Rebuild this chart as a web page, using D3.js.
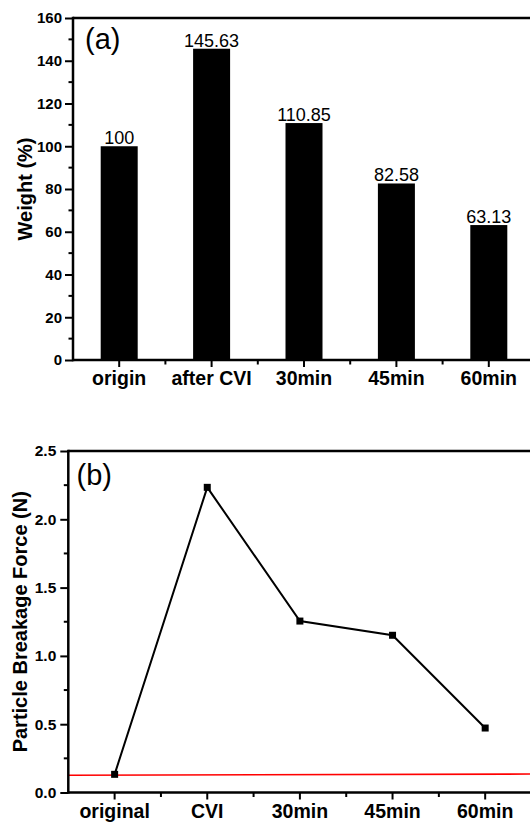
<!DOCTYPE html>
<html>
<head>
<meta charset="utf-8">
<script src="https://cdn.jsdelivr.net/npm/d3@7"></script>
<style>
  html, body { margin: 0; padding: 0; background: #fff; }
  svg { display: block; }
  text { font-family: "Liberation Sans", Arial, Helvetica, sans-serif; fill: #000; }
</style>
</head>
<body>
<script>
// ---- Data ----
const catsA = ["origin", "after CVI", "30min", "45min", "60min"];
const weightValues = [100, 145.63, 110.85, 82.58, 63.13];
const weightTicks = [0, 20, 40, 60, 80, 100, 120, 140, 160];

const catsB = ["original", "CVI", "30min", "45min", "60min"];
const forceValues = [0.133, 2.234, 1.255, 1.151, 0.472];
const forceTicks = [0, 0.5, 1.0, 1.5, 2.0, 2.5];
const redLineValues = [0.126, 0.135]; // red reference line at left and right ends

const W = 530, H = 822;
const svg = d3.select("body").append("svg").attr("width", W).attr("height", H);

const AX = 2.5; // axis stroke width

function drawFrame(g, x0, x1, y0, y1) {
  g.append("line").attr("x1", x0).attr("x2", x0).attr("y1", y0 - AX/2).attr("y2", y1 + AX/2)
    .attr("stroke", "#000").attr("stroke-width", AX);
  g.append("line").attr("x1", x0).attr("x2", x1).attr("y1", y1).attr("y2", y1)
    .attr("stroke", "#000").attr("stroke-width", AX);
  g.append("line").attr("x1", x0).attr("x2", x1).attr("y1", y0).attr("y2", y0)
    .attr("stroke", "#000").attr("stroke-width", AX);
}

// ================= Panel (a) =================
{
  const left = 73, right = 535, top = 18, bottom = 360;
  const x = d3.scaleBand().domain(catsA).range([left, right]).paddingInner(0.6).paddingOuter(0.3);
  const y = d3.scaleLinear().domain([0, 160]).range([bottom, top]);
  const g = svg.append("g");

  g.selectAll("rect.bar").data(weightValues).enter().append("rect")
    .attr("x", (d, i) => x(catsA[i]) + x.bandwidth()/2 - 18.5)
    .attr("width", 37)
    .attr("y", d => y(d))
    .attr("height", d => y(0) - y(d))
    .attr("fill", "#000");

  g.selectAll("text.val").data(weightValues).enter().append("text")
    .attr("x", (d, i) => x(catsA[i]) + x.bandwidth()/2)
    .attr("y", d => y(d) - 2)
    .attr("text-anchor", "middle")
    .style("font-size", "18px")
    .text(d => d);

  const yAxis = d3.axisLeft(y).tickValues(weightTicks).tickSize(8).tickPadding(3).tickFormat(d3.format("d"));
  const ya = g.append("g").attr("transform", `translate(${left},0)`).call(yAxis);
  ya.select(".domain").remove();
  ya.selectAll(".tick line").attr("stroke-width", 2);
  ya.selectAll(".tick text").style("font-size", "15px").style("font-weight", "bold")
    .style("font-family", '"Liberation Sans", Arial, sans-serif');
  const minorA = d3.range(10, 160, 20);
  g.selectAll("line.minory").data(minorA).enter().append("line")
    .attr("x1", left - 4.5).attr("x2", left).attr("y1", d => y(d)).attr("y2", d => y(d))
    .attr("stroke", "#000").attr("stroke-width", 2);

  const xc = c => x(c) + x.bandwidth()/2;
  g.selectAll("line.majx").data(catsA).enter().append("line")
    .attr("x1", d => xc(d)).attr("x2", d => xc(d)).attr("y1", bottom).attr("y2", bottom + 7)
    .attr("stroke", "#000").attr("stroke-width", 2);
  const minorXA = catsA.slice(0, -1).map((c, i) => (xc(c) + xc(catsA[i+1])) / 2);
  g.selectAll("line.minx").data(minorXA).enter().append("line")
    .attr("x1", d => d).attr("x2", d => d).attr("y1", bottom).attr("y2", bottom + 4.5)
    .attr("stroke", "#000").attr("stroke-width", 2);
  g.selectAll("text.xl").data(catsA).enter().append("text")
    .attr("x", d => xc(d)).attr("y", 385)
    .attr("text-anchor", "middle")
    .style("font-size", "19.5px").style("font-weight", "bold")
    .text(d => d);

  drawFrame(g, left, W + 5, top, bottom);

  g.append("text").attr("transform", `translate(31.5,${(top + bottom)/2}) rotate(-90)`)
    .attr("text-anchor", "middle")
    .style("font-size", "20px").style("font-weight", "bold")
    .text("Weight (%)");

  g.append("text").attr("x", 85).attr("y", 49)
    .style("font-size", "29px")
    .text("(a)");
}

// ================= Panel (b) =================
{
  const left = 68.3, right = 531.5, top = 451, bottom = 792.5;
  const x = d3.scalePoint().domain(catsB).range([left, right]).padding(0.5);
  const y = d3.scaleLinear().domain([0, 2.5]).range([bottom, top]);
  const g = svg.append("g");

  g.append("line")
    .attr("x1", left).attr("x2", W + 5)
    .attr("y1", y(redLineValues[0])).attr("y2", y(redLineValues[1]))
    .attr("stroke", "#ff0000").attr("stroke-width", 1.6);

  const line = d3.line().x((d, i) => x(catsB[i])).y(d => y(d));
  g.append("path").datum(forceValues).attr("d", line)
    .attr("fill", "none").attr("stroke", "#000").attr("stroke-width", 2);
  g.selectAll("rect.pt").data(forceValues).enter().append("rect")
    .attr("x", (d, i) => x(catsB[i]) - 3.5).attr("y", d => y(d) - 3.5)
    .attr("width", 7).attr("height", 7).attr("fill", "#000");

  const yAxis = d3.axisLeft(y).tickValues(forceTicks).tickSize(8).tickPadding(4).tickFormat(d3.format(".1f"));
  const ya = g.append("g").attr("transform", `translate(${left},0)`).call(yAxis);
  ya.select(".domain").remove();
  ya.selectAll(".tick line").attr("stroke-width", 2);
  ya.selectAll(".tick text").style("font-size", "15.5px").style("font-weight", "bold")
    .style("font-family", '"Liberation Sans", Arial, sans-serif');
  const minorB = [0.25, 0.75, 1.25, 1.75, 2.25];
  g.selectAll("line.minory").data(minorB).enter().append("line")
    .attr("x1", left - 4.5).attr("x2", left).attr("y1", d => y(d)).attr("y2", d => y(d))
    .attr("stroke", "#000").attr("stroke-width", 2);

  g.selectAll("line.majx").data(catsB).enter().append("line")
    .attr("x1", d => x(d)).attr("x2", d => x(d)).attr("y1", bottom).attr("y2", bottom + 7)
    .attr("stroke", "#000").attr("stroke-width", 2);
  const minorXB = catsB.slice(0, -1).map((c, i) => (x(c) + x(catsB[i+1])) / 2);
  g.selectAll("line.minx").data(minorXB).enter().append("line")
    .attr("x1", d => d).attr("x2", d => d).attr("y1", bottom).attr("y2", bottom + 4.5)
    .attr("stroke", "#000").attr("stroke-width", 2);
  g.selectAll("text.xl").data(catsB).enter().append("text")
    .attr("x", d => x(d)).attr("y", 817.5)
    .attr("text-anchor", "middle")
    .style("font-size", "19.5px").style("font-weight", "bold")
    .text(d => d);

  drawFrame(g, left, W + 5, top, bottom);

  g.append("text").attr("transform", `translate(26.5,${(top + bottom)/2}) rotate(-90)`)
    .attr("text-anchor", "middle")
    .style("font-size", "20px").style("font-weight", "bold")
    .text("Particle Breakage Force (N)");

  g.append("text").attr("x", 76.5).attr("y", 485)
    .style("font-size", "29px")
    .text("(b)");
}
</script>
</body>
</html>
